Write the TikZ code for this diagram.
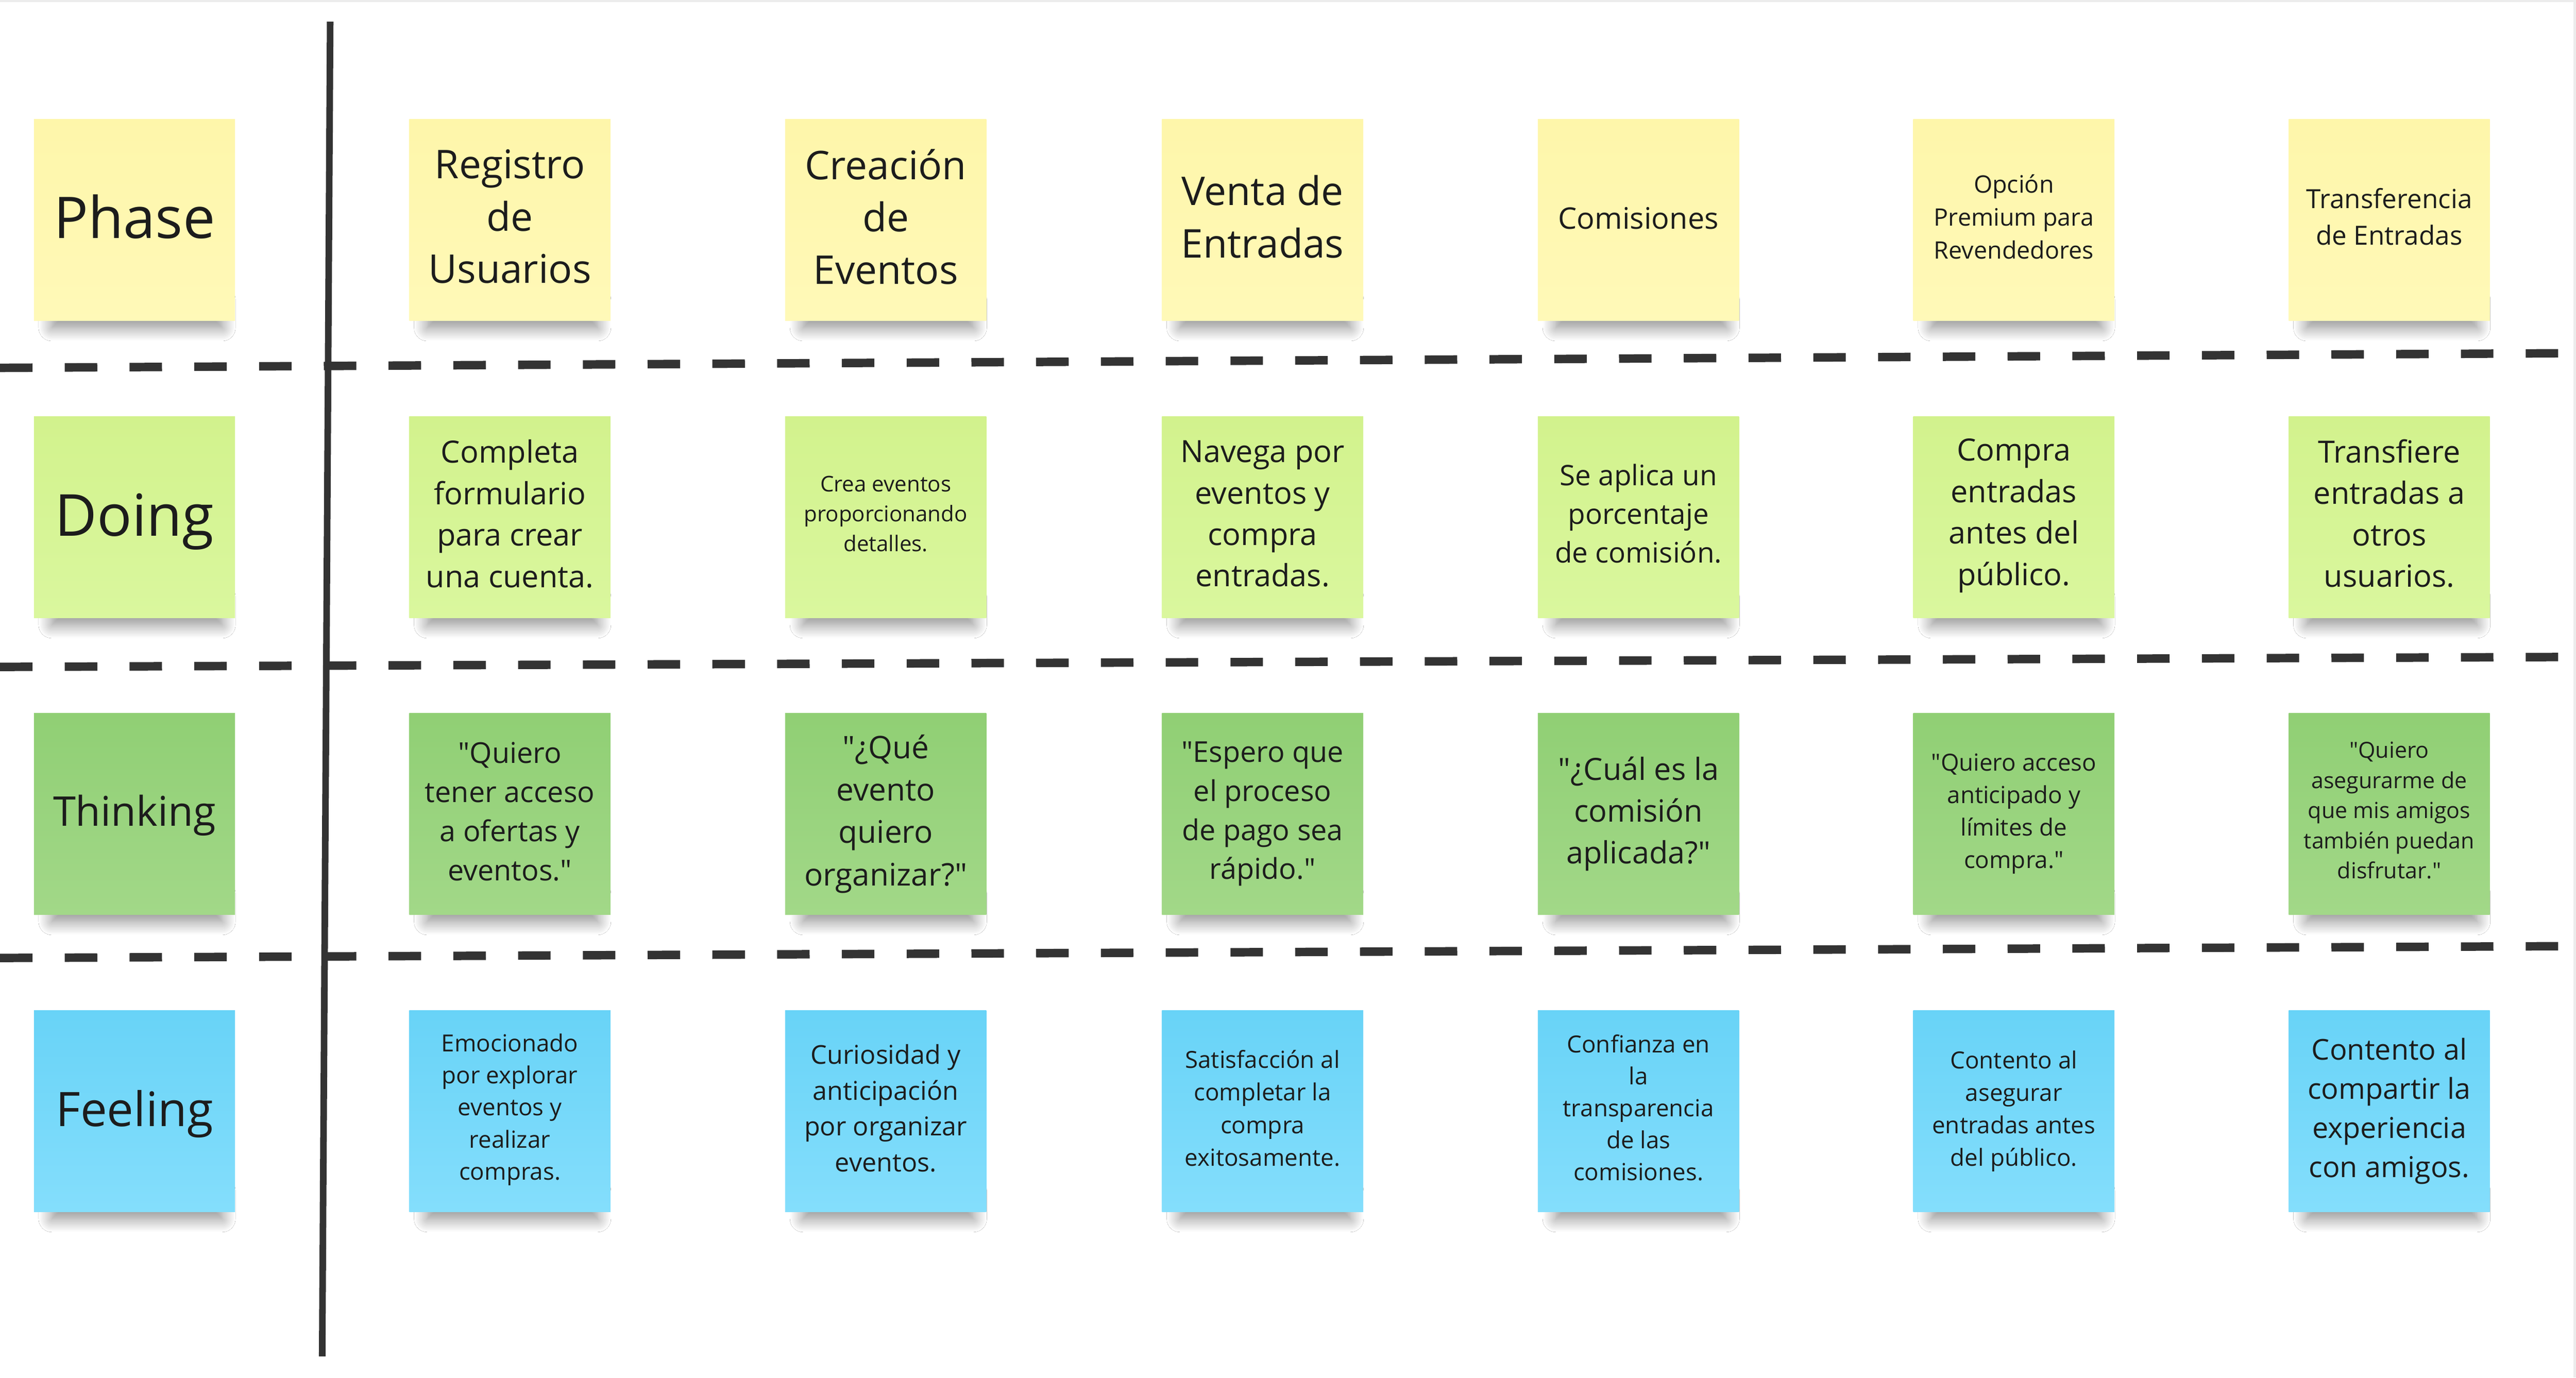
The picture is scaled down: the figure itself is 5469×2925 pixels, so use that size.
\documentclass[tikz,border=0pt]{standalone}
\usepackage{fontspec}
\setmainfont{Open Sans}[Ligatures=TeXOff]
\usetikzlibrary{shadows.blur}
\definecolor{linec}{HTML}{333333}
\definecolor{bordc}{HTML}{ECECEC}
\definecolor{txt}{HTML}{1C1C1C}
\definecolor{yelT}{HTML}{FEF6AA}
\definecolor{yelB}{HTML}{FFF9B8}
\definecolor{lgrT}{HTML}{D2F28D}
\definecolor{lgrB}{HTML}{DAF79E}
\definecolor{grnT}{HTML}{90CF74}
\definecolor{grnB}{HTML}{A2D888}
\definecolor{bluT}{HTML}{68D3F7}
\definecolor{bluB}{HTML}{84DEFC}
\newcommand\fsz[2]{\fontsize{#1pt}{#2pt}\selectfont}
\newcommand\mynote[8]{% name, x, y, style, size, skip, shift(pt, up), text
  \path[shadowcore] (#2+40,#3+385) rectangle (#2+402,#3+445);
  \node[note,#4] (#1) at (#2,#3) {};
  \node[notetext,font=\fsz{#5}{#6}] (#1t) at ([yshift=#7pt]#1.center) {#8};
}
\begin{document}
\begin{tikzpicture}[x=0.1pt,y=-0.1pt,
  note/.style={anchor=north west, minimum width=42.7pt, minimum height=42.8pt,
    inner sep=0pt},
  notetext/.style={inner sep=0pt, align=center, text=txt},
  yel/.style={top color=yelT,bottom color=yelB},
  lgr/.style={top color=lgrT,bottom color=lgrB},
  grn/.style={top color=grnT,bottom color=grnB},
  blu/.style={top color=bluT,bottom color=bluB},
  shadowcore/.style={blur shadow={shadow xshift=0pt,shadow yshift=0pt,
    shadow blur radius=2.8pt,shadow opacity=45,shadow blur steps=16}},
  divider/.style={draw=linec,line width=1.8pt,dash pattern=on 6.9pt off 6.85pt},
  axis/.style={draw=linec,line width=1.4pt}]
\useasboundingbox (0,0) rectangle (5469,2925);
\fill[white] (0,0) rectangle (5469,2925);
\fill[bordc] (0,0) rectangle (5469,4);
\fill[bordc] (5463,0) rectangle (5469,2925);

% dividers
\coordinate (d1a) at (0,781);    \coordinate (d1b) at (5431,750);
\coordinate (d2a) at (0,1416);   \coordinate (d2b) at (5431,1395);
\coordinate (d3a) at (0,2034);   \coordinate (d3b) at (5431,2009);
\path[divider] (d1a) -- (d1b);
\path[divider] (d2a) -- (d2b);
\path[divider] (d3a) -- (d3b);
% vertical axis
\coordinate (va) at (701,46); \coordinate (vb) at (684,2880);
\path[axis] (va) -- (vb);

% Phase row
\mynote{ph0}{70}{251}{yel}{12.2}{16.6}{0.7}{Phase}
\mynote{ph1}{867}{251}{yel}{8.4}{11.1}{0.7}{Registro\\de\\Usuarios}
\mynote{ph2}{1665}{251}{yel}{8.4}{11.1}{0.7}{Creación\\de\\Eventos}
\mynote{ph3}{2465}{251}{yel}{8.4}{11.1}{0.7}{Venta de\\Entradas}
\mynote{ph4}{3263}{251}{yel}{6.3}{8.6}{0.4}{Comisiones}
\mynote{ph5}{4060}{251}{yel}{5.1}{7.0}{0.7}{Opción\\Premium para\\Revendedores}
\mynote{ph6}{4857}{251}{yel}{5.6}{7.7}{0.7}{Transferencia\\de Entradas}

% Doing row
\mynote{do0}{70}{882}{lgr}{12.3}{16.6}{-1.0}{Doing}
\mynote{do1}{867}{882}{lgr}{6.5}{8.8}{0.7}{Completa\\formulario\\para crear\\una cuenta.}
\mynote{do2}{1665}{882}{lgr}{4.6}{6.3}{0.7}{Crea eventos\\proporcionando\\detalles.}
\mynote{do3}{2465}{882}{lgr}{6.5}{8.8}{0.7}{Navega por\\eventos y\\compra\\entradas.}
\mynote{do4}{3263}{882}{lgr}{6.0}{8.2}{0.7}{Se aplica un\\porcentaje\\de comisión.}
\mynote{do5}{4060}{882}{lgr}{6.5}{8.8}{0.3}{Compra\\entradas\\antes del\\público.}
\mynote{do6}{4857}{882}{lgr}{6.5}{8.8}{0.8}{Transfiere\\entradas a\\otros\\usuarios.}

% Thinking row
\mynote{th0}{70}{1512}{grn}{8.7}{11.8}{-0.3}{Thinking}
\mynote{th1}{867}{1512}{grn}{6.1}{8.3}{0.5}{"Quiero\\tener acceso\\a ofertas y\\eventos."}
\mynote{th2}{1665}{1512}{grn}{6.6}{9.0}{0}{"¿Qué\\evento\\quiero\\organizar?"}
\mynote{th3}{2465}{1512}{grn}{6.1}{8.3}{0}{"Espero que\\el proceso\\de pago sea\\rápido."}
\mynote{th4}{3263}{1512}{grn}{6.5}{8.9}{0}{"¿Cuál es la\\comisión\\aplicada?"}
\mynote{th5}{4060}{1512}{grn}{5.0}{6.9}{0}{"Quiero acceso\\anticipado y\\límites de\\compra."}
\mynote{th6}{4857}{1512}{grn}{4.7}{6.4}{0.7}{"Quiero\\asegurarme de\\que mis amigos\\también puedan\\disfrutar."}

% Feeling row
\mynote{fe0}{70}{2143}{blu}{10.1}{13.7}{-0.6}{Feeling}
\mynote{fe1}{867}{2143}{blu}{5.0}{6.8}{0.3}{Emocionado\\por explorar\\eventos y\\realizar\\compras.}
\mynote{fe2}{1665}{2143}{blu}{5.5}{7.6}{0.6}{Curiosidad y\\anticipación\\por organizar\\eventos.}
\mynote{fe3}{2465}{2143}{blu}{5.0}{6.9}{0.6}{Satisfacción al\\completar la\\compra\\exitosamente.}
\mynote{fe4}{3263}{2143}{blu}{5.0}{6.8}{0.7}{Confianza en\\la\\transparencia\\de las\\comisiones.}
\mynote{fe5}{4060}{2143}{blu}{5.0}{6.9}{0}{Contento al\\asegurar\\entradas antes\\del público.}
\mynote{fe6}{4857}{2143}{blu}{6.1}{8.3}{0}{Contento al\\compartir la\\experiencia\\con amigos.}
\end{tikzpicture}
\end{document}
